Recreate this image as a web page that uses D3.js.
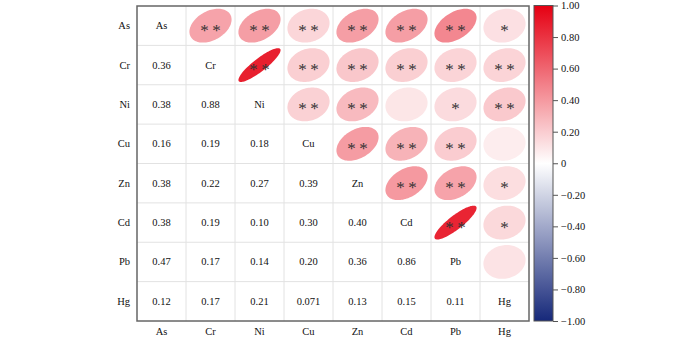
<!DOCTYPE html>
<html><head><meta charset="utf-8">
<script src="https://cdn.jsdelivr.net/npm/d3@7"></script>
<style>body{margin:0;background:#fff}svg{display:block}text{font-family:"Times New Roman","Liberation Serif",Tinos,serif !important;}</style>
</head><body><svg id="c" width="700" height="341"></svg>
<script>
const vars = ["As","Cr","Ni","Cu","Zn","Cd","Pb","Hg"];
// lower-triangle correlation coefficients (row i, col j<i)
const corrRows = [
  [],
  [0.36],
  [0.38,0.88],
  [0.16,0.19,0.18],
  [0.38,0.22,0.27,0.39],
  [0.38,0.19,0.10,0.30,0.40],
  [0.47,0.17,0.14,0.20,0.36,0.86],
  [0.12,0.17,0.21,0.071,0.13,0.15,0.11]
];
// significance marks for the upper triangle, row i, columns j>i
const sigRows = [
  ["**","**","**","**","**","**","*"],
  ["**","**","**","**","**","**"],
  ["**","**","","*","**"],
  ["**","**","**",""],
  ["**","**","*"],
  ["**","*"],
  [""],
  []
];
const legendTicks = [1,0.8,0.6,0.4,0.2,0,-0.2,-0.4,-0.6,-0.8,-1];

const svg = d3.select("#c");
const L=137, R=529, T=6, B=321;
const x = d3.scaleBand().domain(vars).range([L,R]);
const y = d3.scaleBand().domain(vars).range([T,B]);
const cw = x.bandwidth(), ch = y.bandwidth();
const color = d3.scaleLinear().domain([-1,0,1]).range(["#16287a","#ffffff","#e50012"]).interpolate(d3.interpolateRgb);
const r = (i,j)=> i>j ? corrRows[i][j] : corrRows[j][i];

// grid
const g = svg.append("g");
vars.forEach((v,k)=>{
  if(k>0){
    g.append("line").attr("x1",x(v)).attr("x2",x(v)).attr("y1",T).attr("y2",B).attr("stroke","#e2e2e2");
    g.append("line").attr("y1",y(v)).attr("y2",y(v)).attr("x1",L).attr("x2",R).attr("stroke","#e2e2e2");
  }
});

// ellipse path
function ell(rho,cx,cy){
  const a = Math.acos(rho)/2, pts=[];
  for(let n=0;n<=100;n++){
    const k = n/100*2*Math.PI;
    pts.push([cx + Math.cos(k+a)/2*0.86*cw, cy - Math.cos(k-a)/2*0.86*ch]);
  }
  return d3.line()(pts)+"Z";
}

vars.forEach((vi,i)=>{
  vars.forEach((vj,j)=>{
    const cx = x(vj)+cw/2, cy = y(vi)+ch/2;
    if(i===j){
      svg.append("text").attr("x",cx).attr("y",cy+3.5).attr("text-anchor","middle").attr("font-size",10.5).attr("fill","#111").text(vi);
    } else if(i>j){
      svg.append("text").attr("x",cx).attr("y",cy+3.5).attr("text-anchor","middle").attr("font-size",10.5).attr("fill","#111").text(d3.format(".2r")(corrRows[i][j]));
    } else {
      const rho = r(i,j);
      svg.append("path").attr("d",ell(rho,cx,cy)).attr("fill",color(rho));
      const s = sigRows[i][j-i-1];
      const offs = s==="**" ? [-6,6] : s==="*" ? [0] : [];
      offs.forEach(o=>{
        svg.append("text").attr("x",cx+o).attr("y",cy+10).attr("text-anchor","middle").attr("font-size",17).attr("fill","#333").text("*");
      });
    }
  });
});

// frame
svg.append("rect").attr("x",L).attr("y",T).attr("width",R-L).attr("height",B-T).attr("fill","none").attr("stroke","#666").attr("stroke-width",1.5);

// axis labels
vars.forEach(v=>{
  svg.append("text").attr("x",130).attr("y",y(v)+ch/2+3.5).attr("text-anchor","end").attr("font-size",10.5).attr("fill","#111").text(v);
  svg.append("text").attr("x",x(v)+cw/2).attr("y",335).attr("text-anchor","middle").attr("font-size",10.5).attr("fill","#111").text(v);
});

// colorbar
const ly = d3.scaleLinear().domain([-1,1]).range([321,5.5]);
const defs = svg.append("defs");
const grad = defs.append("linearGradient").attr("id","cb").attr("x1",0).attr("x2",0).attr("y1",1).attr("y2",0);
d3.range(0,1.0001,0.05).forEach(t=>{
  grad.append("stop").attr("offset",t).attr("stop-color",color(t*2-1));
});
svg.append("rect").attr("x",534).attr("y",5.5).attr("width",19).attr("height",321-5.5).attr("fill","url(#cb)").attr("stroke","#555").attr("stroke-width",1);
const ax = svg.append("g").attr("transform","translate(553,0)")
  .call(d3.axisRight(ly).tickValues(legendTicks).tickSize(5).tickPadding(3).tickFormat(d=> d===0?"0":d3.format(".2f")(d)));
ax.select(".domain").remove();
ax.selectAll("line").attr("stroke","#555");
ax.selectAll("text").attr("font-size",10.5).attr("fill","#111");
</script></body></html>
